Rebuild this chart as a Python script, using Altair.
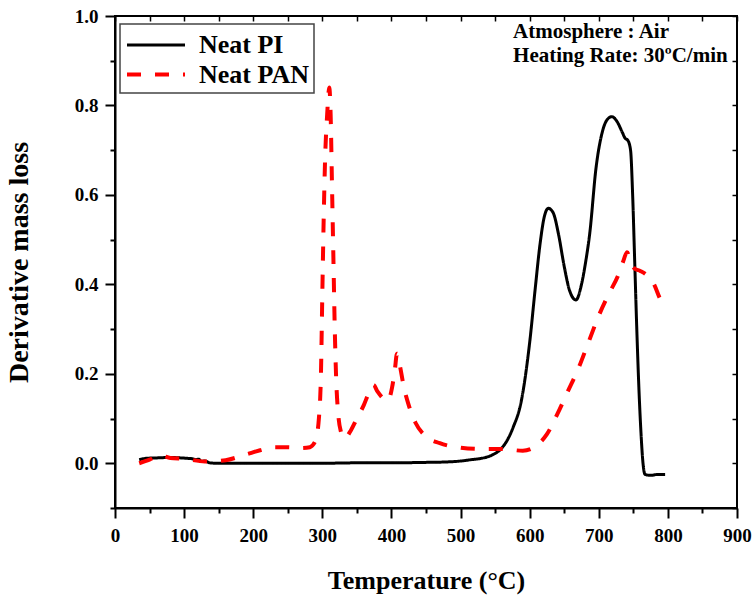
import altair as alt
import pandas as pd

# ---------------- data ----------------
pi_temp = [35, 45, 60, 80, 95, 105, 112, 117, 121, 125, 130, 137, 150, 200, 250, 300, 350, 400, 450,
           480, 500, 515, 530, 545, 557, 567, 576, 588, 600, 608, 615, 621, 627, 634, 642, 650, 658,
           667, 675, 681, 687, 696, 705, 712, 719, 726, 734, 738, 742, 746, 749, 752, 755, 758, 761,
           764, 767, 775, 785, 796]
pi_value = [0.008, 0.011, 0.012, 0.013, 0.012, 0.011, 0.010, 0.008, 0.009, 0.004, 0.005, 0.001, 0.0,
            0.0, 0.0, 0.0, 0.001, 0.001, 0.002, 0.003, 0.005, 0.008, 0.011, 0.018, 0.030, 0.050,
            0.080, 0.140, 0.270, 0.390, 0.490, 0.550, 0.570, 0.560, 0.510, 0.440, 0.385, 0.365,
            0.400, 0.450, 0.515, 0.660, 0.740, 0.768, 0.775, 0.765, 0.740, 0.727, 0.722, 0.700,
            0.600, 0.450, 0.300, 0.170, 0.070, 0.000, -0.025, -0.027, -0.025, -0.025]

pan_temp = [35, 50, 65, 80, 100, 130, 160, 190, 210, 230, 250, 270, 282, 290, 295, 298, 300, 302,
            304, 307, 310, 312, 314, 316, 318, 320, 323, 327, 332, 340, 350, 360, 368, 374, 380,
            388, 395, 401, 405, 408, 412, 418, 425, 435, 450, 470, 500, 530, 560, 590, 610, 625,
            640, 655, 670, 685, 700, 715, 728, 735, 741, 746, 752, 760, 770, 780, 788, 795]
pan_value = [0.0, 0.008, 0.018, 0.012, 0.010, 0.004, 0.007, 0.020, 0.029, 0.036, 0.036, 0.034,
             0.036, 0.050, 0.100, 0.200, 0.380, 0.550, 0.680, 0.780, 0.840, 0.780, 0.620, 0.460,
             0.300, 0.190, 0.110, 0.070, 0.055, 0.070, 0.100, 0.130, 0.160, 0.175, 0.160, 0.145,
             0.140, 0.170, 0.210, 0.245, 0.220, 0.170, 0.130, 0.090, 0.060, 0.045, 0.035, 0.032,
             0.032, 0.028, 0.040, 0.065, 0.110, 0.160, 0.210, 0.270, 0.330, 0.380, 0.420, 0.450,
             0.472, 0.450, 0.435, 0.430, 0.420, 0.400, 0.370, 0.350]

series_names = ["Neat PI", "Neat PAN"]
series_colors = ["#000000", "#ff0000"]
series_dash = [[1, 0], [14, 14]]
series_width = [3, 4]

x_ticks = list(range(0, 901, 50))
y_ticks = [round(-0.1 + 0.1 * i, 1) for i in range(12)]

note_lines = ["Atmosphere : Air", "Heating Rate: 30ºC/min"]
note_x = [576, 576]
note_y = [0.951, 0.897]

# ---------------- build table ----------------
df = pd.concat([
    pd.DataFrame({"T": pi_temp, "D": pi_value, "series": series_names[0], "o": range(len(pi_temp))}),
    pd.DataFrame({"T": pan_temp, "D": pan_value, "series": series_names[1], "o": range(len(pan_temp))}),
], ignore_index=True)
notes = pd.DataFrame({"text": note_lines, "T": note_x, "D": note_y})

FONT = "Liberation Serif"
xscale = alt.Scale(domain=[0, 900], nice=False, zero=False)
yscale = alt.Scale(domain=[-0.1, 1.0], nice=False, zero=False)

x_minor = "datum.value % 100 !== 0"
y_minor = "abs(round(datum.value * 10)) % 2 === 1"

x_axis = alt.Axis(
    title="Temperature (°C)", values=x_ticks, format="d",
    labelExpr=f"{x_minor} ? '' : datum.label",
    tickSize={"condition": {"test": x_minor, "value": 5}, "value": 10},
    tickWidth=2, domainWidth=2, domainColor="black", tickColor="black",
    labelFont=FONT, labelFontSize=19, labelFontWeight="bold", labelColor="black",
    labelPadding=8, labelFlush=False, labelOverlap=False,
    titleFont=FONT, titleFontSize=26, titleFontWeight="bold", titleColor="black",
    titlePadding=22, grid=False,
)
y_axis = alt.Axis(
    title="Derivative mass loss", values=y_ticks, format=".1f",
    labelExpr=f"{y_minor} ? '' : datum.label",
    tickSize={"condition": {"test": y_minor, "value": 5}, "value": 10},
    tickWidth=2, domainWidth=2, domainColor="black", tickColor="black",
    labelFont=FONT, labelFontSize=19, labelFontWeight="bold", labelColor="black",
    labelPadding=7, labelFlush=False, labelOverlap=False,
    titleFont=FONT, titleFontSize=28, titleFontWeight="bold", titleColor="black",
    titlePadding=41, grid=False,
)

legend_symbol = "M-1,0H3"
lines = alt.Chart(df).mark_line(interpolate="monotone").encode(
    x=alt.X("T:Q", scale=xscale, axis=x_axis),
    y=alt.Y("D:Q", scale=yscale, axis=y_axis),
    color=alt.Color("series:N", scale=alt.Scale(domain=series_names, range=series_colors),
                    legend=alt.Legend(title=None, symbolType=legend_symbol)),
    strokeDash=alt.StrokeDash("series:N", scale=alt.Scale(domain=series_names, range=series_dash),
                              legend=alt.Legend(title=None, symbolType=legend_symbol)),
    strokeWidth=alt.StrokeWidth("series:N", scale=alt.Scale(domain=series_names, range=series_width),
                                legend=None),
    order="o:Q",
)

mirror = alt.Chart(df).mark_point(opacity=0).encode(
    x=alt.X("T:Q", scale=xscale, axis=alt.Axis(orient="top", values=x_ticks, labels=False, title=None,
                                               domain=False, tickSize=5, offset=-5, tickWidth=1.5,
                                               tickColor="black", grid=False)),
    y=alt.Y("D:Q", scale=yscale, axis=alt.Axis(orient="right", values=y_ticks, labels=False, title=None,
                                               domain=False, tickSize=5, offset=-5, tickWidth=1.5,
                                               tickColor="black", grid=False)),
)

note = alt.Chart(notes).mark_text(
    align="left", baseline="alphabetic", font=FONT, fontSize=21, fontWeight="bold", color="black"
).encode(
    x=alt.X("T:Q", scale=xscale, axis=None),
    y=alt.Y("D:Q", scale=yscale, axis=None),
    text="text:N",
)

chart = alt.layer(lines, mirror, note).resolve_axis(x="independent", y="independent").properties(
    width=622, height=492,
    autosize=alt.AutoSizeParams(type="none"),
    padding={"left": 115, "top": 16, "right": 16, "bottom": 89},
).configure_view(
    stroke="black", strokeWidth=2
).configure_legend(
    orient="none", legendX=5, legendY=8,
    strokeColor="#444444", strokeWidth=1.5, fillColor="white", padding=5,
    symbolSize=841, symbolStrokeWidth=3.5,
    labelFont=FONT, labelFontSize=26, labelFontWeight="bold", labelColor="black",
    labelOffset=41, rowPadding=-1,
)

chart.save("out.html", embed_options={"renderer": "svg", "actions": False})
